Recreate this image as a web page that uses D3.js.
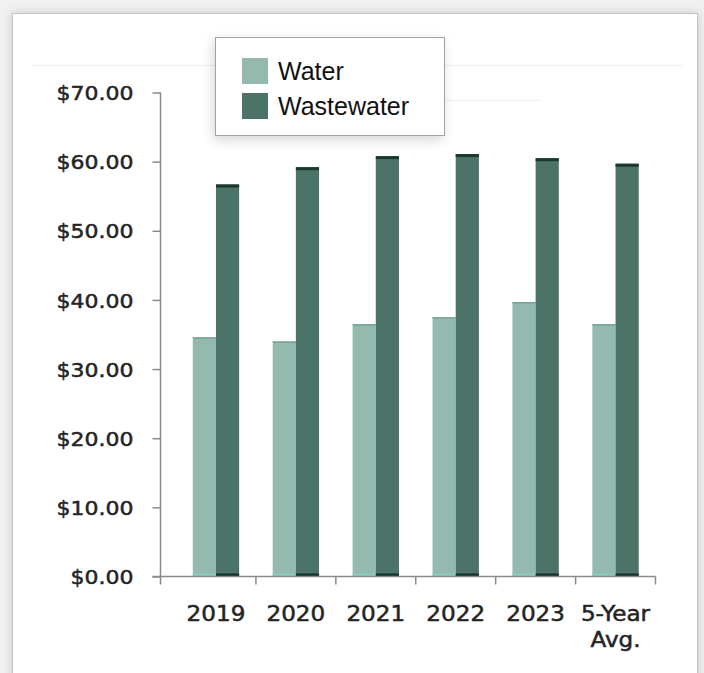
<!DOCTYPE html>
<html>
<head>
<meta charset="utf-8">
<script src="https://cdn.jsdelivr.net/npm/d3@7"></script>
<style>
  html, body { margin: 0; padding: 0; background: #f1f1f1; }
  svg { display: block; }
</style>
</head>
<body>
<svg id="chart" width="704" height="673"></svg>
<script>
// Monthly charge per customer, by year
const categories = ["2019", "2020", "2021", "2022", "2023", "5-Year Avg."];
const water      = [34.6, 34.0, 36.5, 37.5, 39.7, 36.5];
const wastewater = [56.7, 59.2, 60.8, 61.1, 60.5, 59.7];
const seriesNames = ["Water", "Wastewater"];
const yTickValues = [0, 10, 20, 30, 40, 50, 60, 70];

const colors = { Water: "#94b9af", Wastewater: "#4c7367" };
const baseColors = { Water: "#86cdbc", Wastewater: "#12302a" };

const rows = categories.map((c, i) => ({ category: c, Water: water[i], Wastewater: wastewater[i] }));

const svg = d3.select("#chart");
const defs = svg.append("defs");

const panelShadow = defs.append("filter").attr("id", "panelShadow")
  .attr("x", "-10%").attr("y", "-10%").attr("width", "120%").attr("height", "120%");
panelShadow.append("feDropShadow").attr("dx", 0).attr("dy", 0)
  .attr("stdDeviation", 5).attr("flood-color", "#000").attr("flood-opacity", 0.18);

const legendShadow = defs.append("filter").attr("id", "legendShadow")
  .attr("x", "-20%").attr("y", "-20%").attr("width", "140%").attr("height", "150%");
legendShadow.append("feDropShadow").attr("dx", -2).attr("dy", 4)
  .attr("stdDeviation", 6).attr("flood-color", "#000").attr("flood-opacity", 0.16);

// White card behind the chart
svg.append("rect")
  .attr("x", 12.5).attr("y", 13.5).attr("width", 685).attr("height", 720)
  .attr("fill", "#fff").attr("stroke", "#c4c4c4").attr("stroke-width", 1)
  .attr("filter", "url(#panelShadow)");

// Faint rule lines across the plot header
svg.append("line").attr("x1", 31).attr("x2", 682).attr("y1", 65.5).attr("y2", 65.5)
  .attr("stroke", "#f2f2f2").attr("stroke-width", 1.5);
svg.append("line").attr("x1", 446).attr("x2", 541).attr("y1", 100.5).attr("y2", 100.5)
  .attr("stroke", "#f2f2f2").attr("stroke-width", 1.5);

// Scales
const y = d3.scaleLinear().domain([0, 70]).range([576.5, 92.5]);
const x0 = d3.scaleBand().domain(categories).range([176, 655.5])
  .paddingInner(0.42).paddingOuter(0.21);
const x1 = d3.scaleBand().domain(seriesNames).range([0, x0.bandwidth()]);
const step = x0.step();
const axisLeftX = 160.5;

const axisColor = "#8a8a8a";
const labelFont = "'DejaVu Sans', Verdana, sans-serif";
const textColor = "#242424";
const widen = 1.1; // axis labels are set a little wider than the face's natural width

function stretch(sel) {
  sel.each(function () {
    const w = this.getComputedTextLength();
    d3.select(this).attr("textLength", w * widen).attr("lengthAdjust", "spacingAndGlyphs");
  });
}

// Y axis
const yAxis = svg.append("g")
  .attr("transform", `translate(${axisLeftX},0)`)
  .call(d3.axisLeft(y).tickValues(yTickValues).tickFormat(d3.format("$.2f")).tickSize(8).tickPadding(19));
yAxis.select(".domain").remove();
yAxis.selectAll(".tick line").attr("stroke", axisColor).attr("stroke-width", 1.5);
yAxis.selectAll(".tick text")
  .attr("font-family", labelFont).attr("font-size", 20).attr("fill", textColor)
  .attr("stroke", textColor).attr("stroke-width", 0.5)
  .attr("dy", "0.36em")
  .call(stretch);
svg.append("line")
  .attr("x1", axisLeftX).attr("x2", axisLeftX)
  .attr("y1", y(70)).attr("y2", y(0) + 8)
  .attr("stroke", axisColor).attr("stroke-width", 1.5);

// Bars
const groups = svg.append("g").selectAll("g")
  .data(rows).join("g")
  .attr("transform", d => `translate(${x0(d.category)},0)`);

groups.selectAll("rect.bar")
  .data(d => seriesNames.map(k => ({ key: k, value: d[k] })))
  .join("rect").attr("class", "bar")
  .attr("x", d => x1(d.key))
  .attr("width", x1.bandwidth())
  .attr("y", d => y(d.value))
  .attr("height", d => y(0) - y(d.value))
  .attr("fill", d => colors[d.key]);

// Dark cap on the wastewater bars, lighter edge on the water bars
groups.selectAll("rect.cap")
  .data(d => seriesNames.map(k => ({ key: k, value: d[k] })))
  .join("rect").attr("class", "cap")
  .attr("x", d => x1(d.key))
  .attr("width", x1.bandwidth())
  .attr("y", d => y(d.value))
  .attr("height", d => d.key === "Wastewater" ? 3 : 1.5)
  .attr("fill", d => d.key === "Wastewater" ? "#1b382f" : "#77a396");

groups.selectAll("rect.base")
  .data(d => seriesNames.map(k => ({ key: k, value: d[k] })))
  .join("rect").attr("class", "base")
  .attr("x", d => x1(d.key))
  .attr("width", x1.bandwidth())
  .attr("y", y(0) - 3)
  .attr("height", 3)
  .attr("fill", d => baseColors[d.key]);

// X axis line and category boundary ticks
svg.append("line")
  .attr("x1", axisLeftX - 8).attr("x2", 655.5)
  .attr("y1", y(0)).attr("y2", y(0))
  .attr("stroke", axisColor).attr("stroke-width", 1.5);
svg.append("g").selectAll("line")
  .data(d3.range(1, categories.length + 1))
  .join("line")
  .attr("x1", i => x0.range()[0] + i * step)
  .attr("x2", i => x0.range()[0] + i * step)
  .attr("y1", y(0)).attr("y2", y(0) + 8)
  .attr("stroke", axisColor).attr("stroke-width", 1.5);

// Category labels (multi-word names wrap onto a second line)
const xLabels = svg.append("g").selectAll("text")
  .data(categories).join("text")
  .attr("x", d => x0(d) + x0.bandwidth() / 2)
  .attr("y", 621)
  .attr("text-anchor", "middle")
  .attr("font-family", labelFont).attr("font-size", 21).attr("fill", textColor)
  .attr("stroke", textColor).attr("stroke-width", 0.5);
xLabels.each(function (d) {
  const parts = d.split(" ");
  const t = d3.select(this);
  parts.forEach((p, i) => {
    t.append("tspan")
      .attr("x", x0(d) + x0.bandwidth() / 2)
      .attr("dy", i === 0 ? 0 : 26)
      .text(p);
  });
});
xLabels.selectAll("tspan").call(stretch);

// Legend
const legend = svg.append("g");
legend.append("rect")
  .attr("x", 215.5).attr("y", 37.5).attr("width", 229).attr("height", 98)
  .attr("fill", "#fff").attr("stroke", "#a3a3a3").attr("stroke-width", 1)
  .attr("filter", "url(#legendShadow)");
const legendRows = legend.selectAll("g.item")
  .data(seriesNames).join("g").attr("class", "item")
  .attr("transform", (d, i) => `translate(242, ${58 + i * 35})`);
legendRows.append("rect")
  .attr("width", 26).attr("height", 26)
  .attr("fill", d => colors[d]);
legendRows.append("text")
  .attr("x", 36).attr("y", 22)
  .attr("font-family", "'Liberation Sans', Arial, sans-serif")
  .attr("font-size", 25).attr("fill", "#111")
  .text(d => d);
</script>
</body>
</html>
